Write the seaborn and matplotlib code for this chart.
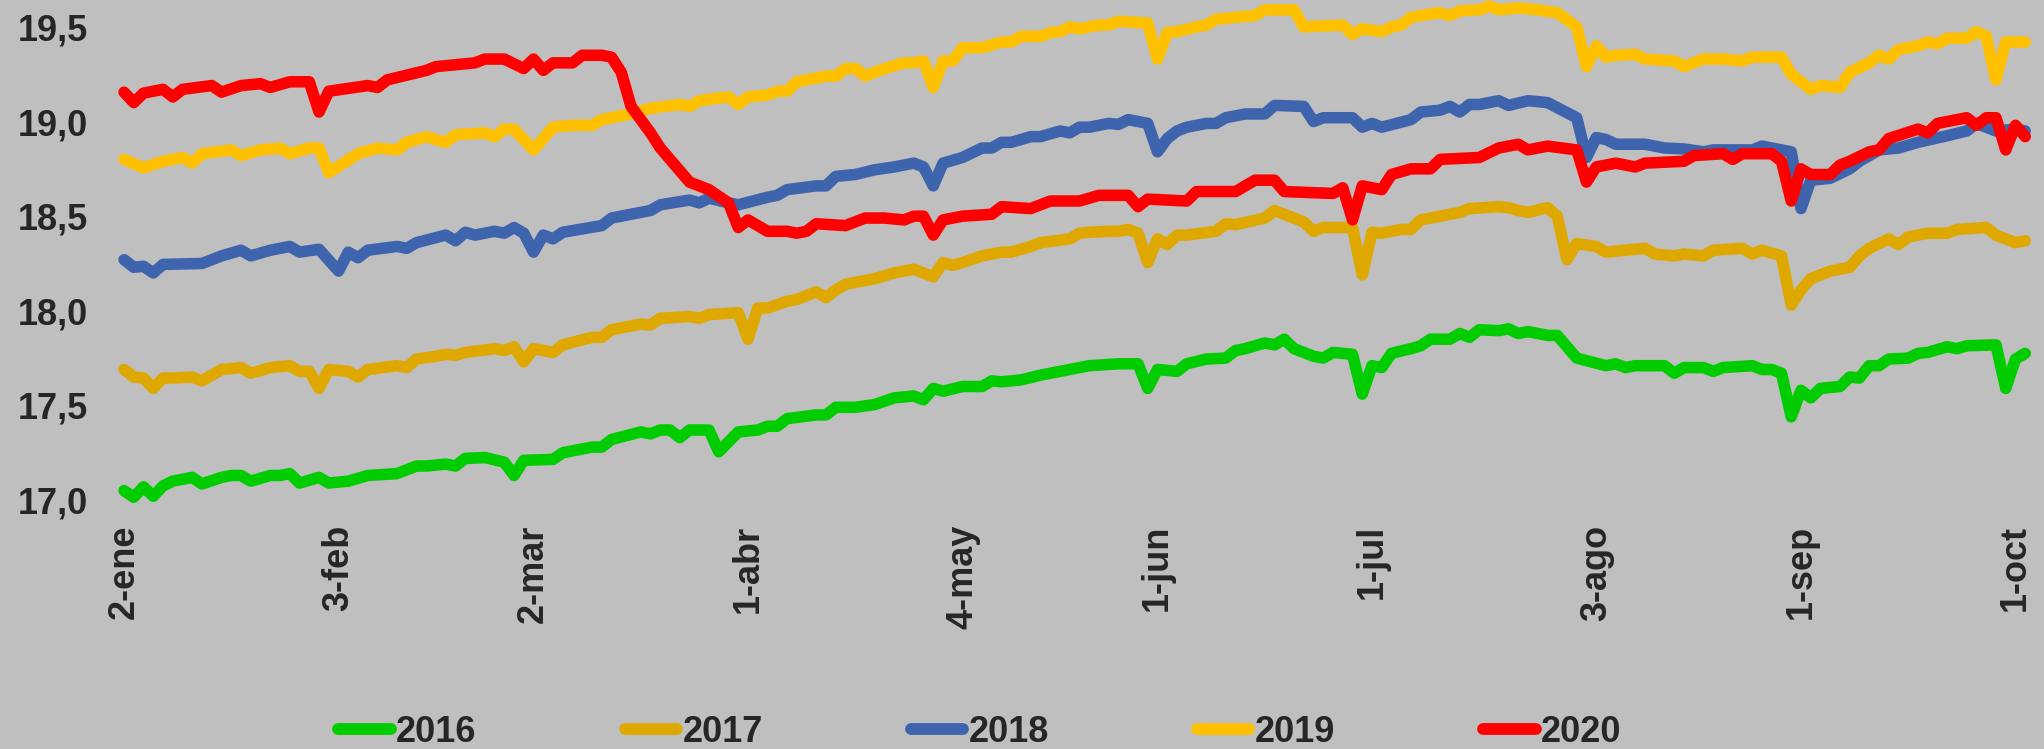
import numpy as np
import pandas as pd
import matplotlib
matplotlib.use("Agg")
import matplotlib.pyplot as plt
import seaborn as sns

# trading-day index (0 = 2-ene) and level, one pair of lists per year
d2016 = [0, 1, 2, 3, 4, 5, 6, 7, 8, 10, 11, 12, 13, 15, 16, 17, 18, 20, 21, 23, 25, 28, 30, 31, 33, 34,
         35, 37, 39, 40, 41, 44, 45, 48, 49, 50, 53, 54, 55, 56, 57, 58, 60, 61, 63, 65, 66, 67, 68, 71,
         72, 73, 75, 77, 79, 81, 82, 83, 84, 86, 88, 89, 90, 92, 94, 96, 97, 99, 102, 104, 105, 106, 108,
         109, 111, 113, 114, 115, 117, 118, 119, 120, 122, 123, 124, 126, 127, 128, 129, 130, 132, 133,
         134, 136, 137, 138, 139, 141, 142, 143, 144, 146, 147, 148, 149, 152, 153, 154, 155, 158, 159,
         160, 162, 163, 164, 167, 168, 169, 170, 171, 172, 173, 174, 176, 177, 178, 179, 180, 181, 183,
         184, 185, 187, 188, 189, 192, 193, 194, 195]
v2016 = [17.05, 17.015, 17.07, 17.02, 17.075, 17.10, 17.11, 17.12, 17.085, 17.12, 17.13, 17.13, 17.10,
         17.13, 17.13, 17.14, 17.09, 17.12, 17.09, 17.10, 17.13, 17.14, 17.18, 17.18, 17.19, 17.18,
         17.22, 17.225, 17.20, 17.13, 17.21, 17.215, 17.25, 17.28, 17.28, 17.32, 17.36, 17.35, 17.37,
         17.37, 17.33, 17.37, 17.37, 17.255, 17.36, 17.37, 17.39, 17.39, 17.43, 17.45, 17.45, 17.49,
         17.49, 17.505, 17.54, 17.55, 17.53, 17.59, 17.575, 17.60, 17.60, 17.63, 17.625, 17.635, 17.66,
         17.68, 17.69, 17.71, 17.72, 17.72, 17.59, 17.69, 17.68, 17.72, 17.745, 17.75, 17.79, 17.80,
         17.83, 17.82, 17.85, 17.80, 17.76, 17.75, 17.78, 17.77, 17.56, 17.71, 17.70, 17.775, 17.80,
         17.815, 17.85, 17.85, 17.88, 17.86, 17.90, 17.895, 17.905, 17.88, 17.89, 17.87, 17.87, 17.81,
         17.75, 17.71, 17.72, 17.70, 17.71, 17.71, 17.67, 17.70, 17.70, 17.68, 17.70, 17.71, 17.69,
         17.69, 17.67, 17.44, 17.58, 17.54, 17.59, 17.60, 17.65, 17.645, 17.71, 17.71, 17.745, 17.75,
         17.775, 17.78, 17.81, 17.80, 17.815, 17.82, 17.59, 17.745, 17.775]

d2017 = [0, 1, 2, 3, 4, 5, 7, 8, 10, 12, 13, 15, 17, 18, 19, 20, 21, 23, 24, 25, 28, 29, 30, 32, 33, 34,
         35, 38, 39, 40, 41, 42, 44, 45, 48, 49, 50, 53, 54, 55, 58, 59, 60, 63, 64, 65, 66, 68, 69, 71,
         72, 73, 74, 77, 79, 81, 83, 84, 85, 86, 88, 90, 91, 93, 94, 97, 98, 99, 101, 102, 103, 104, 105,
         106, 107, 108, 109, 112, 113, 114, 117, 118, 119, 121, 122, 123, 126, 127, 128, 129, 131, 132,
         133, 135, 137, 138, 141, 142, 143, 144, 146, 147, 148, 149, 151, 152, 154, 156, 157, 159, 160,
         162, 163, 166, 167, 168, 170, 171, 172, 173, 175, 177, 178, 179, 181, 182, 183, 185, 187, 188,
         191, 192, 194, 195]
v2017 = [17.69, 17.65, 17.645, 17.59, 17.645, 17.645, 17.65, 17.63, 17.69, 17.70, 17.67, 17.70, 17.71,
         17.68, 17.68, 17.59, 17.69, 17.68, 17.65, 17.69, 17.71, 17.70, 17.745, 17.76, 17.77, 17.765,
         17.78, 17.80, 17.79, 17.81, 17.73, 17.80, 17.78, 17.82, 17.86, 17.86, 17.90, 17.93, 17.925,
         17.96, 17.97, 17.96, 17.98, 17.99, 17.85, 18.015, 18.015, 18.05, 18.06, 18.10, 18.07, 18.11,
         18.14, 18.17, 18.20, 18.22, 18.18, 18.255, 18.24, 18.255, 18.29, 18.31, 18.31, 18.34, 18.36,
         18.38, 18.41, 18.415, 18.42, 18.42, 18.43, 18.41, 18.255, 18.38, 18.35, 18.40, 18.40, 18.42,
         18.46, 18.455, 18.49, 18.53, 18.51, 18.47, 18.42, 18.44, 18.44, 18.19, 18.415, 18.41, 18.43,
         18.43, 18.48, 18.50, 18.52, 18.54, 18.55, 18.545, 18.53, 18.52, 18.545, 18.50, 18.27, 18.355,
         18.34, 18.31, 18.32, 18.33, 18.30, 18.29, 18.30, 18.29, 18.32, 18.33, 18.30, 18.32, 18.29,
         18.03, 18.11, 18.17, 18.21, 18.23, 18.29, 18.33, 18.38, 18.35, 18.39, 18.41, 18.41, 18.43,
         18.44, 18.40, 18.36, 18.37]

d2018 = [0, 1, 2, 3, 4, 8, 10, 12, 13, 15, 17, 18, 20, 22, 23, 24, 25, 28, 29, 30, 33, 34, 35, 36, 38,
         39, 40, 41, 42, 43, 44, 45, 49, 50, 54, 55, 58, 59, 60, 62, 63, 66, 67, 68, 71, 72, 73, 75, 77,
         79, 81, 82, 83, 84, 86, 88, 89, 90, 91, 93, 94, 96, 97, 98, 99, 101, 102, 103, 105, 106, 107,
         108, 109, 111, 112, 113, 115, 117, 118, 121, 122, 123, 126, 127, 128, 129, 132, 133, 135, 136,
         137, 138, 139, 141, 142, 144, 146, 149, 150, 151, 152, 153, 156, 158, 160, 162, 163, 166, 167,
         168, 171, 172, 173, 175, 177, 178, 180, 182, 184, 187, 189, 190, 192, 194, 195]
v2018 = [18.27, 18.23, 18.235, 18.20, 18.245, 18.25, 18.29, 18.32, 18.29, 18.32, 18.34, 18.31, 18.325,
         18.21, 18.31, 18.28, 18.32, 18.34, 18.33, 18.36, 18.40, 18.37, 18.415, 18.40, 18.42, 18.41,
         18.44, 18.41, 18.31, 18.40, 18.38, 18.415, 18.45, 18.49, 18.53, 18.56, 18.585, 18.57, 18.595,
         18.57, 18.56, 18.60, 18.61, 18.64, 18.66, 18.66, 18.71, 18.72, 18.745, 18.76, 18.78, 18.76,
         18.66, 18.78, 18.81, 18.86, 18.86, 18.89, 18.89, 18.92, 18.92, 18.95, 18.94, 18.97, 18.97,
         18.99, 18.985, 19.01, 18.99, 18.84, 18.91, 18.95, 18.97, 18.99, 18.99, 19.02, 19.04, 19.04,
         19.085, 19.08, 19.00, 19.02, 19.02, 18.97, 18.99, 18.97, 19.01, 19.05, 19.06, 19.08, 19.05,
         19.09, 19.09, 19.11, 19.085, 19.11, 19.10, 19.02, 18.81, 18.915, 18.905, 18.88, 18.88, 18.86,
         18.855, 18.84, 18.85, 18.85, 18.85, 18.87, 18.84, 18.54, 18.69, 18.70, 18.75, 18.79, 18.85,
         18.86, 18.89, 18.925, 18.95, 18.99, 18.95, 18.96, 18.95]

d2019 = [0, 2, 4, 6, 7, 8, 11, 12, 14, 16, 17, 19, 20, 21, 24, 26, 28, 29, 31, 33, 34, 37, 38, 39, 40,
         42, 44, 46, 48, 49, 52, 54, 57, 58, 59, 62, 63, 64, 66, 67, 68, 69, 72, 73, 74, 75, 76, 78, 80,
         81, 82, 83, 84, 85, 86, 88, 90, 91, 92, 94, 95, 96, 97, 98, 100, 101, 102, 105, 106, 107, 108,
         110, 111, 112, 114, 116, 117, 120, 121, 125, 126, 127, 129, 130, 131, 132, 133, 135, 136, 137,
         139, 140, 141, 143, 145, 147, 149, 150, 151, 152, 153, 155, 156, 159, 160, 162, 164, 166, 167,
         170, 171, 173, 174, 176, 177, 179, 180, 181, 182, 184, 185, 186, 187, 189, 190, 191, 192, 193,
         195]
v2019 = [18.80, 18.755, 18.79, 18.81, 18.78, 18.83, 18.85, 18.82, 18.85, 18.86, 18.83, 18.86, 18.86,
         18.73, 18.83, 18.86, 18.85, 18.89, 18.92, 18.89, 18.93, 18.94, 18.92, 18.96, 18.96, 18.85,
         18.97, 18.98, 18.98, 19.01, 19.04, 19.07, 19.09, 19.08, 19.11, 19.13, 19.09, 19.13, 19.14,
         19.16, 19.16, 19.21, 19.24, 19.24, 19.28, 19.28, 19.24, 19.28, 19.31, 19.31, 19.32, 19.18,
         19.32, 19.32, 19.39, 19.39, 19.42, 19.42, 19.45, 19.45, 19.47, 19.475, 19.50, 19.49, 19.51,
         19.51, 19.53, 19.52, 19.33, 19.47, 19.475, 19.50, 19.51, 19.54, 19.55, 19.56, 19.59, 19.59,
         19.50, 19.51, 19.46, 19.49, 19.475, 19.50, 19.51, 19.55, 19.56, 19.575, 19.56, 19.585, 19.59,
         19.61, 19.59, 19.60, 19.59, 19.575, 19.50, 19.29, 19.40, 19.34, 19.35, 19.355, 19.33, 19.32,
         19.29, 19.33, 19.33, 19.32, 19.34, 19.34, 19.25, 19.17, 19.19, 19.18, 19.26, 19.31, 19.35,
         19.33, 19.38, 19.40, 19.42, 19.41, 19.44, 19.44, 19.475, 19.45, 19.22, 19.42, 19.42]

d2020 = [0, 1, 2, 4, 5, 6, 9, 10, 12, 14, 15, 17, 19, 20, 21, 25, 26, 27, 31, 32, 36, 37, 39, 41, 42,
         43, 44, 46, 47, 49, 50, 51, 52, 54, 55, 57, 58, 60, 62, 63, 64, 66, 68, 69, 70, 71, 74, 76, 78,
         80, 81, 82, 83, 84, 86, 89, 90, 93, 95, 98, 100, 103, 104, 105, 109, 110, 114, 116, 118, 119,
         124, 125, 126, 127, 129, 130, 132, 134, 135, 139, 141, 143, 144, 146, 149, 150, 151, 153, 155,
         156, 160, 161, 164, 165, 166, 169, 170, 171, 172, 173, 175, 176, 177, 179, 180, 181, 184, 185,
         186, 189, 190, 191, 192, 193, 194, 195]
v2020 = [19.155, 19.10, 19.15, 19.17, 19.13, 19.17, 19.19, 19.155, 19.19, 19.20, 19.18, 19.21, 19.21,
         19.05, 19.16, 19.19, 19.18, 19.22, 19.27, 19.29, 19.31, 19.33, 19.33, 19.28, 19.33, 19.27,
         19.31, 19.31, 19.35, 19.35, 19.34, 19.26, 19.08, 18.94, 18.86, 18.74, 18.68, 18.64, 18.57,
         18.44, 18.48, 18.42, 18.42, 18.41, 18.42, 18.46, 18.45, 18.49, 18.49, 18.48, 18.50, 18.50,
         18.40, 18.48, 18.50, 18.51, 18.55, 18.54, 18.58, 18.58, 18.61, 18.61, 18.55, 18.59, 18.58,
         18.63, 18.63, 18.69, 18.69, 18.63, 18.62, 18.65, 18.48, 18.66, 18.64, 18.72, 18.75, 18.75,
         18.80, 18.81, 18.86, 18.88, 18.85, 18.87, 18.85, 18.68, 18.76, 18.78, 18.76, 18.78, 18.79,
         18.82, 18.83, 18.80, 18.83, 18.83, 18.79, 18.58, 18.75, 18.72, 18.72, 18.77, 18.79, 18.84,
         18.85, 18.91, 18.96, 18.94, 18.99, 19.02, 18.98, 19.02, 19.02, 18.85, 18.98, 18.92]

years = ["2016", "2017", "2018", "2019", "2020"]
colors = ["#00CC00", "#DFA800", "#3D64AD", "#FFC000", "#FF0000"]

tick_idx = [0, 22, 42, 64, 86, 106, 128, 151, 172, 194]
tick_lab = ["2-ene", "3-feb", "2-mar", "1-abr", "4-may", "1-jun", "1-jul", "3-ago", "1-sep", "1-oct"]
y_ticks = [17.0, 17.5, 18.0, 18.5, 19.0, 19.5]

series = {"2016": (d2016, v2016), "2017": (d2017, v2017), "2018": (d2018, v2018),
          "2019": (d2019, v2019), "2020": (d2020, v2020)}
df = pd.concat([pd.DataFrame({"dia": d, "valor": v, "año": y}) for y, (d, v) in series.items()],
               ignore_index=True)

bg = "#BFBFBF"
sns.set_theme(style="white", rc={"axes.facecolor": bg, "figure.facecolor": bg})
plt.rcParams["font.family"] = ["Liberation Sans", "DejaVu Sans"]
plt.rcParams["font.weight"] = "bold"

W, H = 2044, 749
fig = plt.figure(figsize=(W / 100, H / 100), dpi=100)
ax = fig.add_axes([110 / W, 1 - 512 / H, (2034 - 110) / W, 512 / H])

sns.lineplot(data=df, x="dia", y="valor", hue="año", hue_order=years,
             palette=dict(zip(years, colors)), estimator=None, linewidth=8.3,
             solid_joinstyle="round", solid_capstyle="round", ax=ax)

ax.set_xlim(-1.44, 195.9)
ax.set_ylim(16.937, 19.642)
ax.set_xticks(tick_idx)
ax.set_xticklabels(tick_lab, rotation=90, va="top", ha="center", fontsize=26, fontweight="bold")
ax.set_yticks(y_ticks)
ax.set_yticklabels([f"{t:.1f}".replace(".", ",") for t in y_ticks], fontsize=26, fontweight="bold")
ax.tick_params(axis="x", length=0, pad=9)
ax.tick_params(axis="y", length=0, pad=16)
ax.set_xlabel("")
ax.set_ylabel("")
for s in ax.spines.values():
    s.set_visible(False)
ax.grid(False)

sns.move_legend(ax, "center", bbox_to_anchor=(980 / W, 1 - 732 / H), bbox_transform=fig.transFigure,
                ncol=5, frameon=False, title=None, fontsize=26, handlelength=1.45,
                handletextpad=0.15, columnspacing=4.1)
leg = ax.get_legend()
for line in leg.get_lines():
    line.set_linewidth(8.5)
    line.set_solid_capstyle("round")
for t in leg.get_texts():
    t.set_fontweight("bold")

fig.savefig("out.png", dpi=100, facecolor=bg)
